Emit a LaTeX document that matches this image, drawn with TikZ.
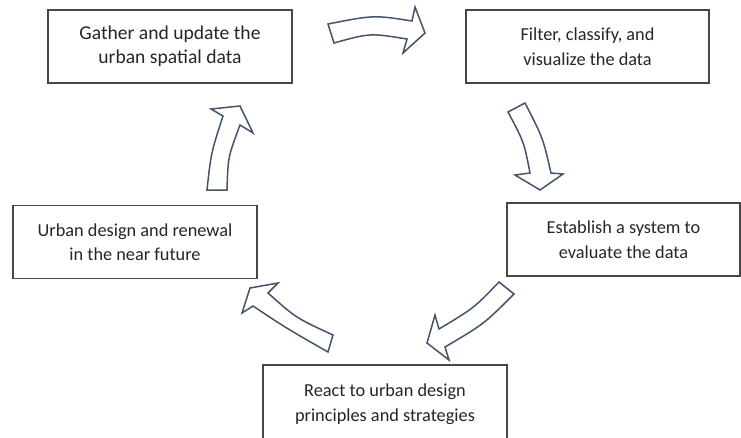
\documentclass[tikz,border=0pt]{standalone}
\usepackage{fontspec}
\setmainfont{Carlito}
\usepackage{tikz}
\usetikzlibrary{positioning}

\definecolor{boxline}{HTML}{474747}
\definecolor{slate}{HTML}{44546A}
\definecolor{ink}{HTML}{262626}

\begin{document}
\begin{tikzpicture}[x=1pt,y=-1pt,
    stage/.style={draw=boxline, line width=1.1pt, fill=white, text=ink,
      minimum width=244pt, minimum height=73pt, inner sep=0pt,
      align=center, font=\fontsize{18.3}{24.5}\selectfont},
    flow/.style={draw=slate, fill=white, line width=1.5pt, line join=miter}]
      \useasboundingbox (0,0) rectangle (741,437);

      % the five stages of the cycle
      \node[stage, font=\fontsize{19.6}{23.5}\selectfont] (gather) at (170,46.5) {Gather and update the\\urban spatial data};
      \node[stage, minimum width=243pt] (filter) at (587.5,46.5) {Filter, classify, and\\visualize the data};
      \node[stage, minimum width=233pt] (evaluate) at (623.5,239.5) {Establish a system to\\evaluate the data};
      \node[stage, minimum height=78pt] (react) at (385,404) {React to urban design\\principles and strategies};
      \node[stage] (renew)    at (135,242)   {Urban design and renewal\\in the near future};

      % bent block arrows between the stages
      \draw[flow] (328,24) .. controls (374,15) .. (412,21) -- (415,7) -- (425,33)
        -- (403,53) -- (407,39) .. controls (370,33) .. (334,43) -- cycle;
      \draw[flow] (525,103) .. controls (543,138) .. (551,173) -- (563,174) -- (540,190)
        -- (515,175) -- (530,173) .. controls (524,142) .. (508,112) -- cycle;
      \draw[flow] (514,294) .. controls (484,324) .. (445,347) -- (449,360) -- (427,343)
        -- (435,315) -- (439,329) .. controls (474,308) .. (499,282) -- cycle;
      \draw[flow] (333,335) .. controls (296,318) .. (268,293) -- (278,283) -- (250,288)
        -- (242,313) -- (253,306) .. controls (286,328) .. (328,352) -- cycle;
      \draw[flow] (207,190) .. controls (211,153) .. (223,116) -- (211,109) -- (240,106)
        -- (253,133) -- (240,125) .. controls (228,157) .. (227,190) -- cycle;
\end{tikzpicture}
\end{document}
